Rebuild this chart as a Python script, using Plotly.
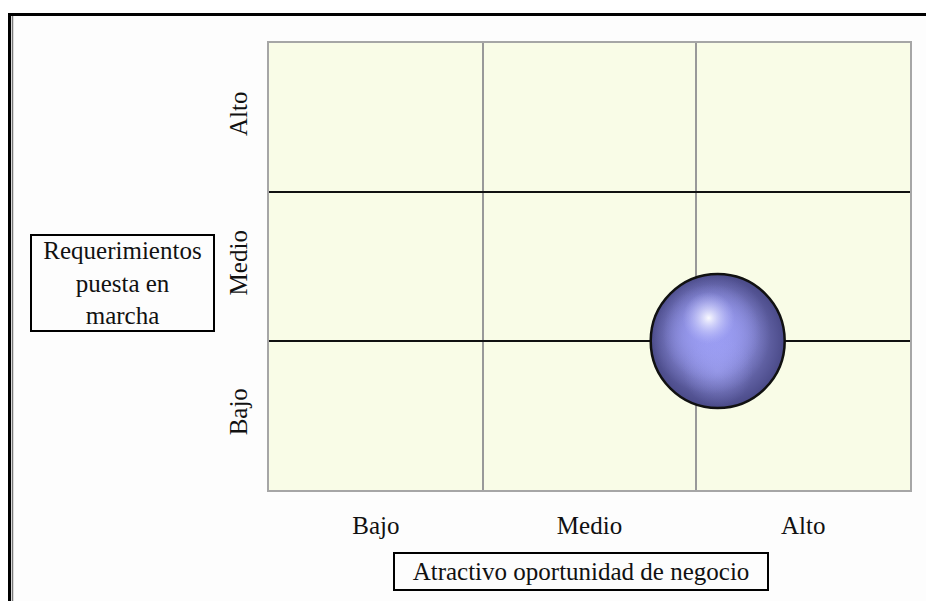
import plotly.graph_objects as go

# Category labels shared by both axes
niveles = ["Bajo", "Medio", "Alto"]
niveles_pos = [1, 2, 3]
limites = [1.5, 2.5]

# Business opportunity evaluated on the matrix
atractivo = [2.6]
requerimientos = [1.5]

W, H = 926, 601
M_L, M_R, M_T, M_B = 269, 16, 43, 111
PLOT_W, PLOT_H = W - M_L - M_R, H - M_T - M_B
X_RANGE = [0.5, 3.5]
Y_RANGE = [0.5, 3.5]
SERIF = "Liberation Serif, Times New Roman, serif"


def px_x(px):
    return (px - M_L) / PLOT_W


def px_y(py):
    return (H - M_B - py) / PLOT_H


def dx(px):
    return px * (X_RANGE[1] - X_RANGE[0]) / PLOT_W


def dy(py):
    return -py * (Y_RANGE[1] - Y_RANGE[0]) / PLOT_H


def glow(ox, oy, size, center, edge):
    """Radial-gradient marker offset by (ox, oy) pixels from each point."""
    return go.Scatter(
        x=[v + dx(ox) for v in atractivo],
        y=[v + dy(oy) for v in requerimientos],
        mode="markers", hoverinfo="skip",
        marker=dict(size=size, color=edge,
                    gradient=dict(type="radial", color=center),
                    line=dict(width=0)),
    )


fig = go.Figure()

BALL = 134

# sphere body: radial shading darker toward the rim
fig.add_trace(glow(0, 0, BALL, "#A2A4F4", "#4A4A88"))
# broad light from the upper left
fig.add_trace(glow(-7, -7, BALL - 14, "rgba(156,158,242,1)", "rgba(150,152,238,0)"))
fig.add_trace(glow(-6, -8, BALL - 36, "rgba(154,156,242,1)", "rgba(150,152,240,0)"))
# soft reflected light along the bottom
fig.add_trace(glow(0, 30, 70, "rgba(165,167,248,0.45)", "rgba(160,162,246,0)"))
# specular highlight
fig.add_trace(glow(-9, -23, 52, "rgba(255,255,255,0.95)", "rgba(190,192,252,0)"))
# outline
fig.add_trace(go.Scatter(
    x=atractivo, y=requerimientos, mode="markers", hoverinfo="skip",
    marker=dict(size=BALL, color="rgba(0,0,0,0)",
                line=dict(width=2.5, color="#111111")),
))

axis_common = dict(
    tickvals=niveles_pos, ticktext=niveles,
    showgrid=False, zeroline=False, ticks="",
    showline=True, mirror=True, linecolor="#A6A6A6", linewidth=2,
    tickfont=dict(family=SERIF, size=25, color="#111111"),
)

fig.update_xaxes(**axis_common)
fig.update_xaxes(range=X_RANGE, ticklabelstandoff=12,
                 minor=dict(tickvals=limites, showgrid=True,
                            gridcolor="#999999", gridwidth=1.5, ticks=""))
fig.update_yaxes(**axis_common)
fig.update_yaxes(range=Y_RANGE, tickangle=-90, ticklabelstandoff=10,
                 minor=dict(tickvals=limites, showgrid=True,
                            gridcolor="#111111", gridwidth=1.5, ticks=""))

shapes = [
    # white surround outside the frame
    dict(type="rect", xref="paper", yref="paper",
         x0=px_x(0), x1=px_x(W), y0=px_y(0), y1=px_y(13),
         fillcolor="white", line=dict(width=0)),
    dict(type="rect", xref="paper", yref="paper",
         x0=px_x(0), x1=px_x(8), y0=px_y(0), y1=px_y(H),
         fillcolor="white", line=dict(width=0)),
    # frame
    dict(type="line", xref="paper", yref="paper",
         x0=px_x(8), x1=px_x(W), y0=px_y(14.5), y1=px_y(14.5),
         line=dict(color="black", width=3)),
    dict(type="line", xref="paper", yref="paper",
         x0=px_x(9.5), x1=px_x(9.5), y0=px_y(13), y1=px_y(H),
         line=dict(color="black", width=3)),
    dict(type="line", xref="paper", yref="paper",
         x0=px_x(12.5), x1=px_x(12.5), y0=px_y(16), y1=px_y(H),
         line=dict(color="#7A7A7A", width=1.5)),
]

annotations = [
    dict(text="Atractivo oportunidad de negocio", xref="paper", yref="paper",
         x=px_x(581), y=px_y(571.5), xanchor="center", yanchor="middle",
         showarrow=False, font=dict(family=SERIF, size=25, color="#111111"),
         bordercolor="black", borderwidth=2, borderpad=0,
         width=372, height=35, bgcolor="#FDFDFD"),
    dict(text="Requerimientos<br>puesta en<br>marcha", xref="paper", yref="paper",
         x=px_x(122.5), y=px_y(283), xanchor="center", yanchor="middle",
         showarrow=False, font=dict(family=SERIF, size=25, color="#111111"),
         bordercolor="black", borderwidth=2, borderpad=0,
         width=181, height=94, bgcolor="#FDFDFD"),
]

fig.update_layout(
    width=W, height=H, autosize=False,
    margin=dict(l=M_L, r=M_R, t=M_T, b=M_B, pad=0),
    paper_bgcolor="#FDFDFD", plot_bgcolor="#F9FCE7",
    showlegend=False, hovermode=False,
    shapes=shapes, annotations=annotations,
)

fig.write_html("out.html")
